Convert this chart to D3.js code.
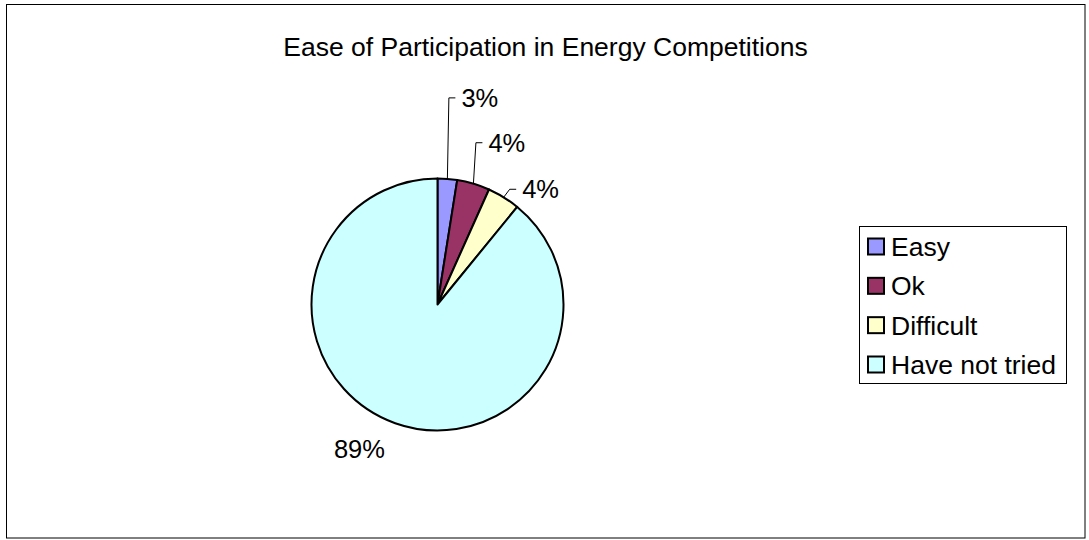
<!DOCTYPE html>
<html>
<head>
<meta charset="utf-8">
<script src="https://cdn.jsdelivr.net/npm/d3@7"></script>
<style>
  html, body { margin: 0; padding: 0; background: #fff; }
  svg { display: block; }
  text { font-family: Arial, "Liberation Sans", sans-serif; fill: #000; }
</style>
</head>
<body>
<svg id="chart" width="1089" height="540"></svg>
<script>
// ---- data ----
const title = "Ease of Participation in Energy Competitions";
const categories = ["Easy", "Ok", "Difficult", "Have not tried"];
const shares = [2.5, 4.2, 4.2, 89.1];
const colors = ["#9999FF", "#993366", "#FFFFCC", "#CCFFFF"];

// ---- layout ----
const W = 1089, H = 540;
const cx = 437.5, cy = 304.5, R = 126;
const leaderRise = [81, 41, 8, null];   // vertical rise of leader lines
const leaderShift = [1.5, 2.5, 6, null]; // horizontal drift of elbow
const fsTitle = 26.5, fsLegend = 26.5, fsLabel = 25.5;

const svg = d3.select("#chart");

svg.append("rect")
  .attr("x", 6.5).attr("y", 4.5)
  .attr("width", 1078.5).attr("height", 533.5)
  .attr("fill", "#fff").attr("stroke", "#000").attr("stroke-width", 1);

svg.append("text")
  .attr("x", 545.5).attr("y", 55.5)
  .attr("text-anchor", "middle")
  .style("font-size", fsTitle + "px")
  .text(title);

const pie = d3.pie().sort(null).value(d => d).startAngle(0).endAngle(2 * Math.PI);
const arcs = pie(shares);
const arc = d3.arc().innerRadius(0).outerRadius(R);
const edgeArc = d3.arc().innerRadius(R).outerRadius(R);

const g = svg.append("g").attr("transform", `translate(${cx},${cy})`);

g.selectAll("path.slice")
  .data(arcs)
  .join("path")
  .attr("class", "slice")
  .attr("d", arc)
  .attr("fill", (d, i) => colors[i])
  .attr("stroke", "#000")
  .attr("stroke-width", 2)
  .attr("stroke-linejoin", "round");

const fmt = v => Math.round(v) + "%";
const total = d3.sum(shares);

arcs.forEach((d, i) => {
  const pct = d.data / total * 100;
  if (leaderRise[i] != null) {
    const [ex, ey] = edgeArc.centroid(d);
    const bx = ex + leaderShift[i], by = ey - leaderRise[i];
    g.append("path")
      .attr("d", `M${ex},${ey}L${bx},${by}L${bx + 6.5},${by}`)
      .attr("fill", "none")
      .attr("stroke", "#000")
      .attr("stroke-width", 1);
    g.append("text")
      .attr("x", bx + 12.5)
      .attr("y", by + fsLabel * 0.358)
      .style("font-size", fsLabel + "px")
      .text(fmt(pct));
  } else {
    const lab = d3.arc().innerRadius(R + 27.5).outerRadius(R + 27.5);
    const [lx, ly] = lab.centroid(d);
    g.append("text")
      .attr("x", lx - 1)
      .attr("y", ly + fsLabel * 0.358)
      .attr("text-anchor", "end")
      .style("font-size", fsLabel + "px")
      .text(fmt(pct));
  }
});

// legend
const lg = svg.append("g");
lg.append("rect")
  .attr("x", 859.5).attr("y", 226.5)
  .attr("width", 207).attr("height", 157)
  .attr("fill", "#fff").attr("stroke", "#000").attr("stroke-width", 1);

const rowY = d3.scalePoint().domain(categories).range([246.5, 364.5]);
categories.forEach((c, i) => {
  const y = rowY(c);
  lg.append("rect")
    .attr("x", 868).attr("y", y - 8)
    .attr("width", 16).attr("height", 16)
    .attr("fill", colors[i]).attr("stroke", "#000").attr("stroke-width", 2);
  lg.append("text")
    .attr("x", 891).attr("y", y + fsLegend * 0.358)
    .style("font-size", fsLegend + "px")
    .text(c);
});
</script>
</body>
</html>
